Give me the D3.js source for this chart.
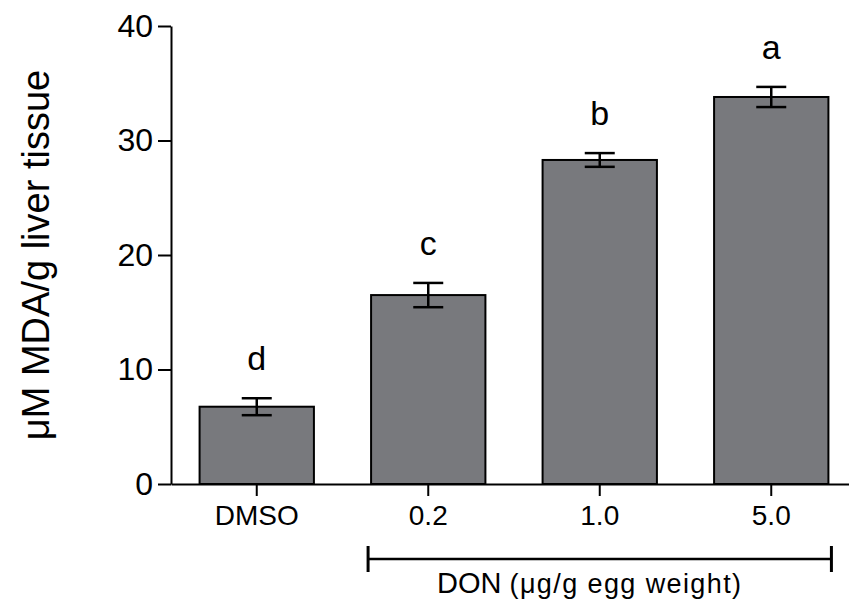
<!DOCTYPE html>
<html>
<head>
<meta charset="utf-8">
<script src="https://cdn.jsdelivr.net/npm/d3@7"></script>
<style>
  body { margin: 0; background: #fff; }
  svg { display: block; font-family: Arial, "Liberation Sans", Helvetica, sans-serif; }
</style>
</head>
<body>
<div id="chart"></div>
<script>
// chart data
const groups = ["DMSO", "0.2", "1.0", "5.0"];
const means = [6.75, 16.5, 28.3, 33.8];
const sems = [0.74, 1.06, 0.6, 0.88];
const letters = ["d", "c", "b", "a"];
const yTicks = [0, 10, 20, 30, 40];

// SVG definitions
const W = 849, H = 602;
const margin = {top: 26, left: 171, bottom: 118};
const plotBottom = H - margin.bottom;

const svg = d3.select("#chart").append("svg")
  .attr("width", W)
  .attr("height", H);

// scales
const xScale = d3.scaleBand()
  .domain(groups)
  .range([margin.left, margin.left + 686])
  .paddingInner(1 / 3)
  .paddingOuter(1 / 6);

const yScale = d3.scaleLinear()
  .domain([0, 40])
  .range([plotBottom, margin.top]);

const rows = groups.map((g, i) => ({g, mean: means[i], sem: sems[i], letter: letters[i]}));

// bars
svg.append("g").selectAll("rect")
  .data(rows)
  .join("rect")
    .attr("x", d => xScale(d.g))
    .attr("y", d => yScale(d.mean))
    .attr("width", xScale.bandwidth())
    .attr("height", d => yScale(0) - yScale(d.mean))
    .attr("fill", "#78797d")
    .attr("stroke", "#000")
    .attr("stroke-width", 2);

// error bars
const capHalf = 15;
const err = svg.append("g")
  .attr("stroke", "#000")
  .attr("stroke-width", 2.5);
rows.forEach(d => {
  const cx = xScale(d.g) + xScale.bandwidth() / 2;
  const top = yScale(d.mean + d.sem), bot = yScale(d.mean - d.sem);
  err.append("line").attr("x1", cx).attr("x2", cx).attr("y1", top).attr("y2", bot);
  err.append("line").attr("x1", cx - capHalf).attr("x2", cx + capHalf).attr("y1", top).attr("y2", top);
  err.append("line").attr("x1", cx - capHalf).attr("x2", cx + capHalf).attr("y1", bot).attr("y2", bot);
});

// significance letters
svg.append("g").selectAll("text")
  .data(rows)
  .join("text")
    .attr("x", d => xScale(d.g) + xScale.bandwidth() / 2)
    .attr("y", d => yScale(d.mean + d.sem) - 28)
    .attr("text-anchor", "middle")
    .attr("font-size", "34px")
    .text(d => d.letter);

// y axis
const yAxis = svg.append("g")
  .attr("transform", `translate(${margin.left},0)`)
  .call(d3.axisLeft(yScale).tickValues(yTicks).tickSize(13).tickPadding(5).tickSizeOuter(0));
yAxis.select(".domain").attr("stroke-width", 2);
yAxis.selectAll(".tick line").attr("stroke-width", 2);
yAxis.selectAll(".tick text")
  .attr("font-size", "32px")
  .attr("font-family", "Arial, 'Liberation Sans', sans-serif")
  .attr("fill", "#000");

// x axis
const xAxis = svg.append("g")
  .attr("transform", `translate(0,${plotBottom})`)
  .call(d3.axisBottom(xScale).tickSize(12).tickPadding(9).tickSizeOuter(0));
xAxis.select(".domain").attr("stroke-width", 2);
xAxis.selectAll(".tick line").attr("stroke-width", 2);
xAxis.selectAll(".tick text")
  .attr("font-size", "28px")
  .attr("font-family", "Arial, 'Liberation Sans', sans-serif")
  .attr("fill", "#000");

// y axis label
svg.append("text")
  .attr("transform", `translate(49,${(margin.top + plotBottom) / 2}) rotate(-90)`)
  .attr("text-anchor", "middle")
  .attr("font-size", "38px")
  .text("μM MDA/g liver tissue");

// DON bracket under the treated groups
const bx1 = xScale("0.2") - 3;
const bx2 = xScale("5.0") + xScale.bandwidth() + 3;
const by = 559;
const bracket = svg.append("g").attr("stroke", "#000");
bracket.append("line").attr("x1", bx1).attr("x2", bx2).attr("y1", by).attr("y2", by).attr("stroke-width", 2.5);
bracket.append("line").attr("x1", bx1).attr("x2", bx1).attr("y1", by - 13).attr("y2", by + 13).attr("stroke-width", 3);
bracket.append("line").attr("x1", bx2).attr("x2", bx2).attr("y1", by - 13).attr("y2", by + 13).attr("stroke-width", 3);

const don = svg.append("text")
  .attr("x", (bx1 + bx2) / 2 - 10)
  .attr("y", 593)
  .attr("text-anchor", "middle")
  .attr("font-size", "29px");
don.append("tspan").text("DON ");
don.append("tspan").attr("font-size", "27px").attr("letter-spacing", "1.4px").text("(μg/g egg weight)");
</script>
</body>
</html>
